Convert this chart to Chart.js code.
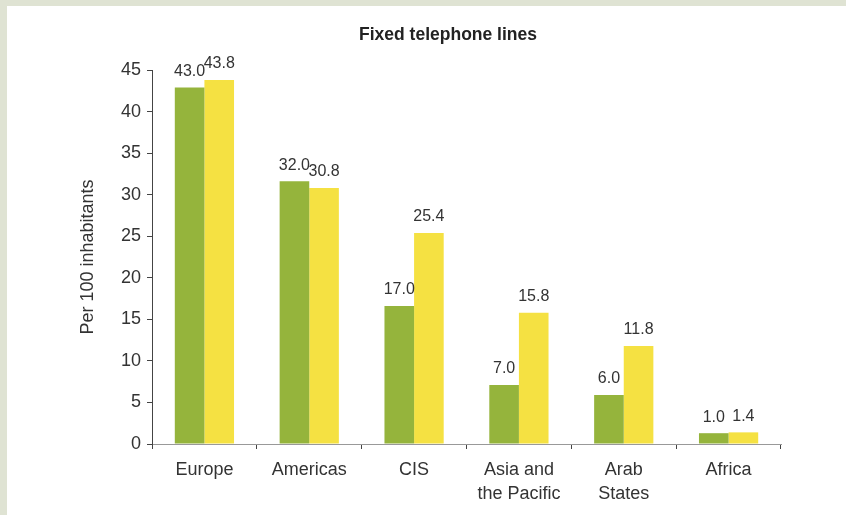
<!DOCTYPE html>
<html lang="en">
<head>
  <meta charset="UTF-8">
  <title>Fixed telephone lines</title>
  <script src="https://cdn.jsdelivr.net/npm/chart.js"></script>
  <style>
    body {
      margin: 0;
      background: #dfe3d3;
      width: 846px;
      height: 515px;
      overflow: hidden;
      position: relative;
    }
    #panel {
      position: absolute;
      left: 7px;
      top: 6px;
      right: 0;
      bottom: 0;
      background: #ffffff;
    }
    #wrap {
      position: absolute;
      left: 0;
      top: 0;
      width: 846px;
      height: 515px;
    }
  </style>
</head>
<body>
  <div id="panel"></div>
  <div id="wrap"><canvas id="phoneChart"></canvas></div>

  <script>
    const regions = ['Europe', 'Americas', 'CIS', ['Asia and', 'the Pacific'], ['Arab', 'States'], 'Africa'];
    const greenValues = [42.9, 31.6, 16.6, 7.1, 5.9, 1.3];
    const yellowValues = [43.8, 30.8, 25.4, 15.8, 11.8, 1.4];
    const greenLabels = ['43.0', '32.0', '17.0', '7.0', '6.0', '1.0'];
    const yellowLabels = ['43.8', '30.8', '25.4', '15.8', '11.8', '1.4'];
    const yTicks = [0, 5, 10, 15, 20, 25, 30, 35, 40, 45];

    const textColor = '#333333';
    const fontFamily = "'Liberation Sans', Arial, sans-serif";

    // value labels over each bar
    const barLabels = {
      id: 'barLabels',
      afterDatasetsDraw(chart) {
        const ctx = chart.ctx;
        ctx.save();
        ctx.font = '16px ' + fontFamily;
        ctx.fillStyle = textColor;
        ctx.textAlign = 'center';
        ctx.textBaseline = 'bottom';
        chart.data.datasets.forEach((ds, i) => {
          chart.getDatasetMeta(i).data.forEach((bar, j) => {
            ctx.fillText(ds.labelsText[j], bar.x, bar.y - 8);
          });
        });
        ctx.restore();
      }
    };

    const chartTitle = {
      id: 'chartTitle',
      afterDraw(chart) {
        const ctx = chart.ctx;
        ctx.save();
        ctx.font = 'bold 17.5px ' + fontFamily;
        ctx.fillStyle = '#222222';
        ctx.textAlign = 'center';
        ctx.textBaseline = 'middle';
        ctx.fillText('Fixed telephone lines', 448, 35);
        ctx.restore();
      }
    };

    const ctx = document.getElementById('phoneChart').getContext('2d');
    new Chart(ctx, {
      type: 'bar',
      data: {
        labels: regions,
        datasets: [
          {
            label: 'A',
            data: greenValues,
            labelsText: greenLabels,
            backgroundColor: '#95b43c',
            categoryPercentage: 0.565,
            barPercentage: 1
          },
          {
            label: 'B',
            data: yellowValues,
            labelsText: yellowLabels,
            backgroundColor: '#f5e142',
            categoryPercentage: 0.565,
            barPercentage: 1
          }
        ]
      },
      options: {
        responsive: true,
        maintainAspectRatio: false,
        animation: false,
        layout: { padding: { left: 50, right: 65, top: 70, bottom: 0 } },
        plugins: {
          legend: { display: false },
          tooltip: { enabled: false }
        },
        scales: {
          x: {
            afterFit(scale) { scale.height = 71; },
            grid: {
              offset: true,
              drawOnChartArea: false,
              drawTicks: true,
              tickLength: 5,
              color: '#444444'
            },
            border: { color: '#999999', width: 1 },
            ticks: {
              color: textColor,
              padding: 10,
              font: { family: fontFamily, size: 18, lineHeight: 1.28 },
              maxRotation: 0,
              autoSkip: false
            }
          },
          y: {
            min: 0,
            max: 45,
            afterFit(scale) { scale.width = 102; },
            afterBuildTicks(scale) { scale.ticks = yTicks.map(v => ({ value: v })); },
            grid: {
              drawOnChartArea: false,
              drawTicks: true,
              tickLength: 5,
              color: '#444444'
            },
            border: { color: '#444444', width: 1 },
            ticks: {
              color: textColor,
              padding: 6,
              font: { family: fontFamily, size: 18 }
            },
            title: {
              display: true,
              text: 'Per 100 inhabitants',
              color: textColor,
              padding: { top: 27, bottom: 0 },
              font: { family: fontFamily, size: 18 }
            }
          }
        }
      },
      plugins: [barLabels, chartTitle]
    });
  </script>
</body>
</html>
